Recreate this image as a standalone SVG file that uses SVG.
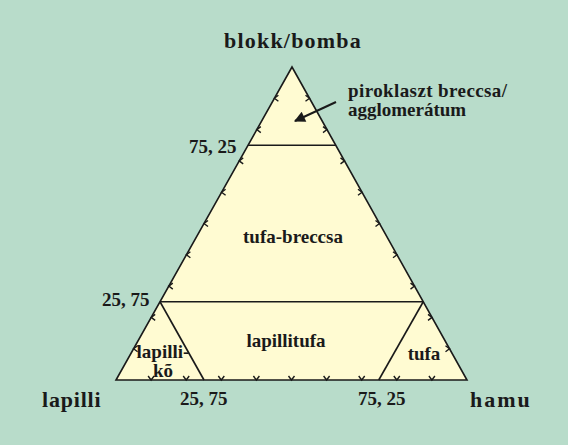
<svg xmlns="http://www.w3.org/2000/svg" width="568" height="445" viewBox="0 0 568 445">
<style>
.bg{fill:#b8dcca}
.tri{fill:#fffbd2;stroke:#1a1a1a;stroke-width:1.6;stroke-linejoin:miter}
.ln{stroke:#1a1a1a;stroke-width:1.6;fill:none}
.arr{stroke:#1a1a1a;stroke-width:2;fill:none}
.tick{stroke:#1a1a1a;stroke-width:1.4;fill:none}
.t{font-family:'Liberation Serif','Times New Roman',Times,serif;font-weight:700;fill:#1a1a1a}
.corner{font-size:22px}
.lbl{font-size:19px}
.num{font-size:19px}
</style>
<defs>
<path id="chev" d="M-4,-3 L0,0 L-4,3"/>
<marker id="ah" viewBox="0 0 10 10" refX="9" refY="5" markerWidth="13" markerHeight="11" markerUnits="userSpaceOnUse" orient="auto">
<path d="M0,0 L10,5 L0,10 Z" fill="#1a1a1a"/>
</marker>
</defs>
<rect class="bg" x="0" y="0" width="568" height="445"/>
<g id="triangle">
<polygon class="tri" points="292,67 116,380 467,380"/>
</g>
<g id="connectors">
<line class="ln" x1="248" y1="145.25" x2="335.75" y2="145.25"/>
<line class="ln" x1="160" y1="301.75" x2="423.25" y2="301.75"/>
<line class="ln" x1="160" y1="301.75" x2="204" y2="380"/>
<line class="ln" x1="423.25" y1="301.75" x2="378.75" y2="380"/>
<line class="arr" x1="336" y1="102" x2="295" y2="121" marker-end="url(#ah)"/>
</g>
<g id="ticks" class="tick">
<use href="#chev" transform="translate(274.4,98.3) rotate(180)"/>
<use href="#chev" transform="translate(256.8,129.6) rotate(180)"/>
<use href="#chev" transform="translate(239.2,160.9) rotate(180)"/>
<use href="#chev" transform="translate(221.6,192.2) rotate(180)"/>
<use href="#chev" transform="translate(204,223.5) rotate(180)"/>
<use href="#chev" transform="translate(186.4,254.8) rotate(180)"/>
<use href="#chev" transform="translate(168.8,286.1) rotate(180)"/>
<use href="#chev" transform="translate(151.2,317.4) rotate(180)"/>
<use href="#chev" transform="translate(133.6,348.7) rotate(180)"/>
<use href="#chev" transform="translate(309.5,98.3)"/>
<use href="#chev" transform="translate(327,129.6)"/>
<use href="#chev" transform="translate(344.5,160.9)"/>
<use href="#chev" transform="translate(362,192.2)"/>
<use href="#chev" transform="translate(379.5,223.5)"/>
<use href="#chev" transform="translate(397,254.8)"/>
<use href="#chev" transform="translate(414.5,286.1)"/>
<use href="#chev" transform="translate(432,317.4)"/>
<use href="#chev" transform="translate(449.5,348.7)"/>
<use href="#chev" transform="translate(151.1,380) rotate(90)"/>
<use href="#chev" transform="translate(186.2,380) rotate(90)"/>
<use href="#chev" transform="translate(221.3,380) rotate(90)"/>
<use href="#chev" transform="translate(256.4,380) rotate(90)"/>
<use href="#chev" transform="translate(291.5,380) rotate(90)"/>
<use href="#chev" transform="translate(326.6,380) rotate(90)"/>
<use href="#chev" transform="translate(361.7,380) rotate(90)"/>
<use href="#chev" transform="translate(396.8,380) rotate(90)"/>
<use href="#chev" transform="translate(431.9,380) rotate(90)"/>
</g>
<g id="corner-labels" font-family="Liberation Serif, serif" font-weight="bold">
<text class="t corner" x="293" y="48" text-anchor="middle" letter-spacing="1.2">blokk/bomba</text>
<text class="t corner" x="42" y="407" letter-spacing="0.8">lapilli</text>
<text class="t corner" x="470" y="407" letter-spacing="2">hamu</text>
</g>
<g id="axis-labels" font-family="Liberation Serif, serif" font-weight="bold">
<text class="t num" x="189" y="153">75, 25</text>
<text class="t num" x="102" y="306">25, 75</text>
<text class="t num" x="180" y="405">25, 75</text>
<text class="t num" x="358" y="405">75, 25</text>
</g>
<g id="field-piroklaszt" font-family="Liberation Serif, serif" font-weight="bold">
<text class="t lbl" x="348" y="97" letter-spacing="0.4">piroklaszt breccsa/</text>
<text class="t lbl" x="348" y="116">agglomerátum</text>
</g>
<g id="field-tufa-breccsa" font-family="Liberation Serif, serif" font-weight="bold"><text class="t lbl" x="293" y="243" text-anchor="middle">tufa-breccsa</text></g>
<g id="field-lapillitufa" font-family="Liberation Serif, serif" font-weight="bold"><text class="t lbl" x="286" y="347" text-anchor="middle">lapillitufa</text></g>
<g id="field-tufa" font-family="Liberation Serif, serif" font-weight="bold"><text class="t lbl" x="424" y="360" text-anchor="middle">tufa</text></g>
<g id="field-lapillik" font-family="Liberation Serif, serif" font-weight="bold">
<text class="t lbl" x="163" y="358" text-anchor="middle">lapilli-</text>
<text class="t lbl" x="163" y="377" text-anchor="middle" font-size="18">kõ</text>
</g>
</svg>
